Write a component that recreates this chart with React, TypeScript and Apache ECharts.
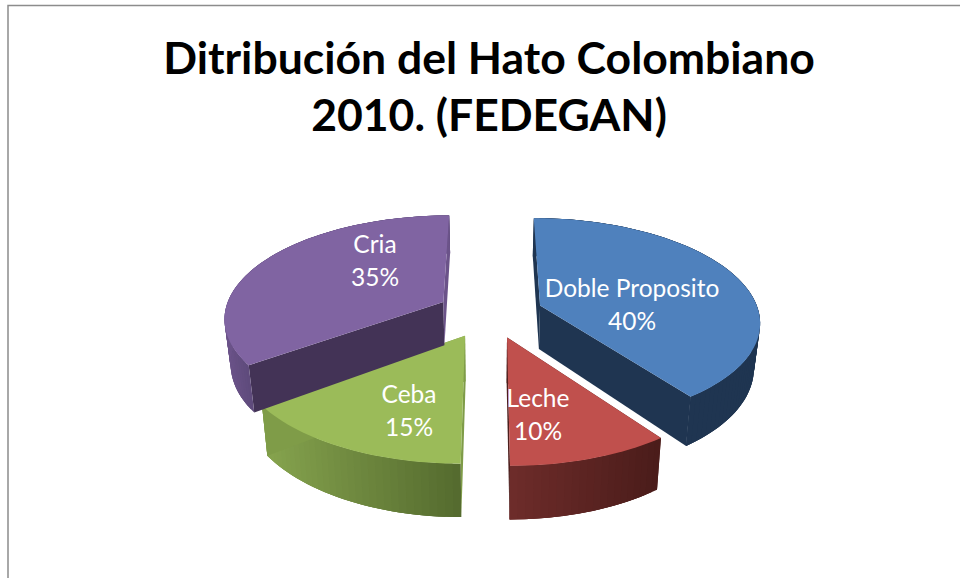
import React, { useEffect, useRef } from "react";
import * as echarts from "echarts";

const categories = ["Doble Proposito", "Leche", "Ceba", "Cria"];
const shares = [40, 10, 15, 35];
const titleLines = ["Ditribución del Hato Colombiano", "2010. (FEDEGAN)"];

const topColors = ["#4f81bd", "#c0504d", "#9bbb59", "#8064a2"];
const cutColors = [
  ["#1f3551", "#1f3551"],
  ["#4d1e1c", "#4d1e1c"],
  ["#7f9c48", "#7f9c48"],
  ["#433356", "#6b5389"],
];
const wallStops = [
  [[31, 53, 81], [31, 53, 81]],
  [[110, 44, 42], [74, 28, 26]],
  [[134, 164, 78], [84, 106, 46]],
  [[107, 83, 137], [94, 74, 123]],
];
const labelAnchors = [
  [632, 304],
  [538, 414],
  [409, 410],
  [375, 260],
];

// Projection of the tilted, exploded pie
const CX = 490, CY = 313, RX = 219, RY = 102, PERSP = 0.145, EXPLODE = 0.243, DEPTH = 44, BASE_SHRINK = 0.977;
const total = shares.reduce((a, b) => a + b, 0);

function project(u: number, v: number, lower: boolean): number[] {
  const w = 1 / (1 - PERSP * v);
  let x = RX * u * w;
  let y = CY + RY * v * w;
  if (lower) {
    x *= BASE_SHRINK;
    y += DEPTH * w;
  }
  return [CX + x, y];
}

function renderSlice(params: any, api: any) {
  const i = params.dataIndex;
  const value = api.value(0);
  let before = 0;
  for (let k = 0; k < i; k++) before += shares[k];
  const a0 = (before / total) * Math.PI * 2;
  const a1 = ((before + value) / total) * Math.PI * 2;
  const mid = (a0 + a1) / 2;
  const ou = Math.sin(mid) * EXPLODE;
  const ov = -Math.cos(mid) * EXPLODE;
  const n = Math.max(8, Math.round((a1 - a0) / 0.03));
  const angles: number[] = [];
  for (let s = 0; s <= n; s++) angles.push(a0 + ((a1 - a0) * s) / n);
  const rim = (lower: boolean) =>
    angles.map((a) => project(ou + Math.sin(a), ov - Math.cos(a), lower));
  const topRim = rim(false);
  const lowRim = rim(true);
  const apexTop = project(ou, ov, false);
  const apexLow = project(ou, ov, true);
  const poly = (points: number[][], fill: string) => ({
    type: "polygon",
    shape: { points },
    style: { fill, stroke: "none" },
  });
  const frontX = topRim.filter((_, s) => Math.cos(angles[s]) <= 0).map((p) => p[0]);
  const minX = Math.min(...frontX);
  const maxX = Math.max(...frontX);
  const wallColor = (x: number) => {
    const f = Math.min(1, Math.max(0, (x - minX) / (maxX - minX || 1)));
    const [c0, c1] = wallStops[i];
    const rgb = c0.map((c, j) => Math.round(c + (c1[j] - c) * f));
    return `rgb(${rgb[0]},${rgb[1]},${rgb[2]})`;
  };
  // Each strip reaches well into the next one, so no seam shows the page behind it
  const strips = [];
  for (let s = 0; s < n; s++) {
    const e = Math.min(n, s + 3);
    strips.push(
      poly(
        [topRim[s], topRim[s + 1], ...(e > s + 1 ? [topRim[e]] : []), lowRim[e], lowRim[s + 1], lowRim[s]],
        wallColor((topRim[s][0] + topRim[s + 1][0]) / 2)
      )
    );
  }
  const lines = [categories[i], `${value}%`];
  return {
    type: "group",
    children: [
      poly([apexTop, topRim[0], lowRim[0], apexLow], cutColors[i][0]),
      ...strips,
      poly([apexTop, topRim[n], lowRim[n], apexLow], cutColors[i][1]),
      poly([apexTop, ...topRim], topColors[i]),
      ...lines.map((t, j) => ({
        type: "text",
        style: {
          text: t,
          x: labelAnchors[i][0],
          y: labelAnchors[i][1] + (j === 0 ? -16.5 : 16.5),
          fill: "#ffffff",
          font: "400 24.5px Lato",
          textAlign: "center",
          textVerticalAlign: "middle",
        },
      })),
    ],
  };
}

export default function App() {
  const ref = useRef<HTMLDivElement>(null);
  useEffect(() => {
    const chart = echarts.init(ref.current!, undefined, { renderer: "svg" });
    chart.setOption({
      animation: false,
      backgroundColor: "#ffffff",
      title: {
        text: titleLines.join("\n"),
        left: 484,
        top: 23,
        textAlign: "center",
        textStyle: { fontFamily: "Lato", fontWeight: "bold", fontSize: 44.5, lineHeight: 57, color: "#000000" },
      },
      graphic: [
        {
          type: "polyline",
          shape: { points: [[8, 578], [8, 5.5], [960, 5.5]] },
          style: { stroke: "#8c8c8c", lineWidth: 1.5, fill: "none" },
        },
      ],
      series: [
        {
          type: "custom",
          coordinateSystem: "none",
          data: shares,
          renderItem: renderSlice,
          silent: true,
        },
      ],
    });
    return () => chart.dispose();
  }, []);
  return <div ref={ref} style={{ position: "fixed", left: 0, top: 0, width: 960, height: 578 }} />;
}
